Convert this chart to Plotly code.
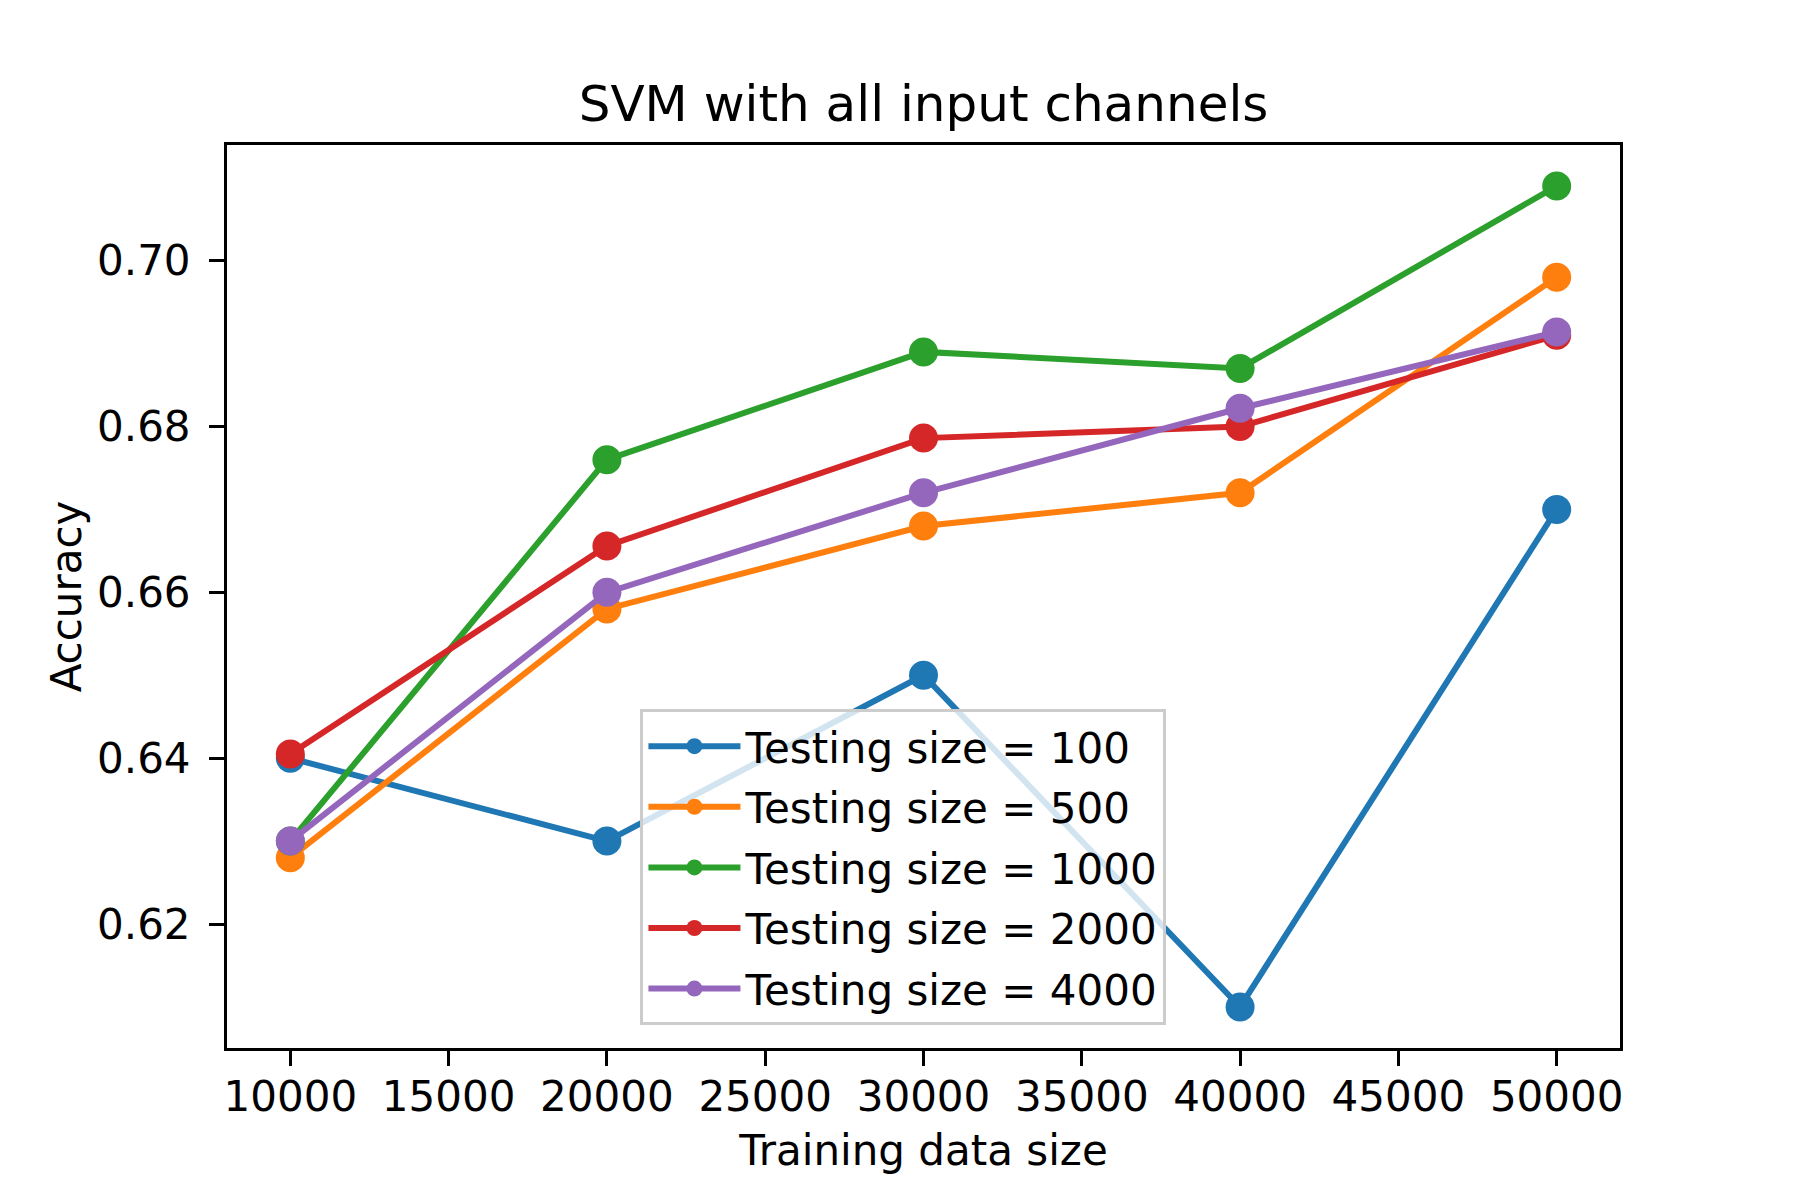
import plotly.graph_objects as go

training_sizes = [10000, 20000, 30000, 40000, 50000]
series_names = ["Testing size = 100", "Testing size = 500", "Testing size = 1000",
                "Testing size = 2000", "Testing size = 4000"]
acc_100 = [0.640, 0.630, 0.650, 0.610, 0.670]
acc_500 = [0.628, 0.658, 0.668, 0.672, 0.698]
acc_1000 = [0.630, 0.676, 0.689, 0.687, 0.709]
acc_2000 = [0.6405, 0.6656, 0.6786, 0.680, 0.691]
acc_4000 = [0.630, 0.660, 0.672, 0.6822, 0.6914]
colors = ["#1f77b4", "#ff7f0e", "#2ca02c", "#d62728", "#9467bd"]

all_series = [acc_100, acc_500, acc_1000, acc_2000, acc_4000]

FONT = "DejaVu Sans"
fig = go.Figure()
for i, (name, vals, col) in enumerate(zip(series_names, all_series, colors)):
    fig.add_trace(go.Scatter(
        x=training_sizes, y=vals, name=name, mode="lines+markers",
        legendgroup=f"g{i}",
        line=dict(color=col, width=6),
        marker=dict(color=col, size=29),
    ))

fig.update_layout(
    width=1800, height=1200,
    margin=dict(l=219, r=188, t=137, b=160),
    paper_bgcolor="white", plot_bgcolor="white",
    font=dict(family=FONT, size=42, color="black"),
    title=dict(text="SVM with all input channels", x=0.5, xref="paper",
               y=1 - 95 / 1200, yref="container", xanchor="center", yanchor="middle",
               font=dict(family=FONT, size=50, color="black")),
    showlegend=True,
    legend=dict(x=0.2968, y=0.375, xanchor="left", yanchor="top",
                traceorder="grouped", tracegroupgap=3, itemwidth=92,
                bgcolor="rgba(255,255,255,0.8)", bordercolor="#cccccc", borderwidth=3,
                font=dict(family=FONT, size=42, color="black")),
)
fig.update_xaxes(
    range=[8000, 52000], tick0=10000, dtick=5000, tickformat="d",
    showgrid=False, zeroline=False,
    showline=True, linecolor="black", linewidth=3, mirror=True,
    ticks="outside", ticklen=15, tickwidth=3, tickcolor="black",
    ticklabelstandoff=-5,
    title=dict(text="Training data size", standoff=16, font=dict(family=FONT, size=42)),
)
fig.update_yaxes(
    range=[0.60505, 0.71395], tick0=0.62, dtick=0.02, tickformat=".2f",
    showgrid=False, zeroline=False,
    showline=True, linecolor="black", linewidth=3, mirror=True,
    ticks="outside", ticklen=15, tickwidth=3, tickcolor="black",
    ticklabelstandoff=10,
    title=dict(text="Accuracy", standoff=3, font=dict(family=FONT, size=42)),
)

fig.write_html("out.html")
